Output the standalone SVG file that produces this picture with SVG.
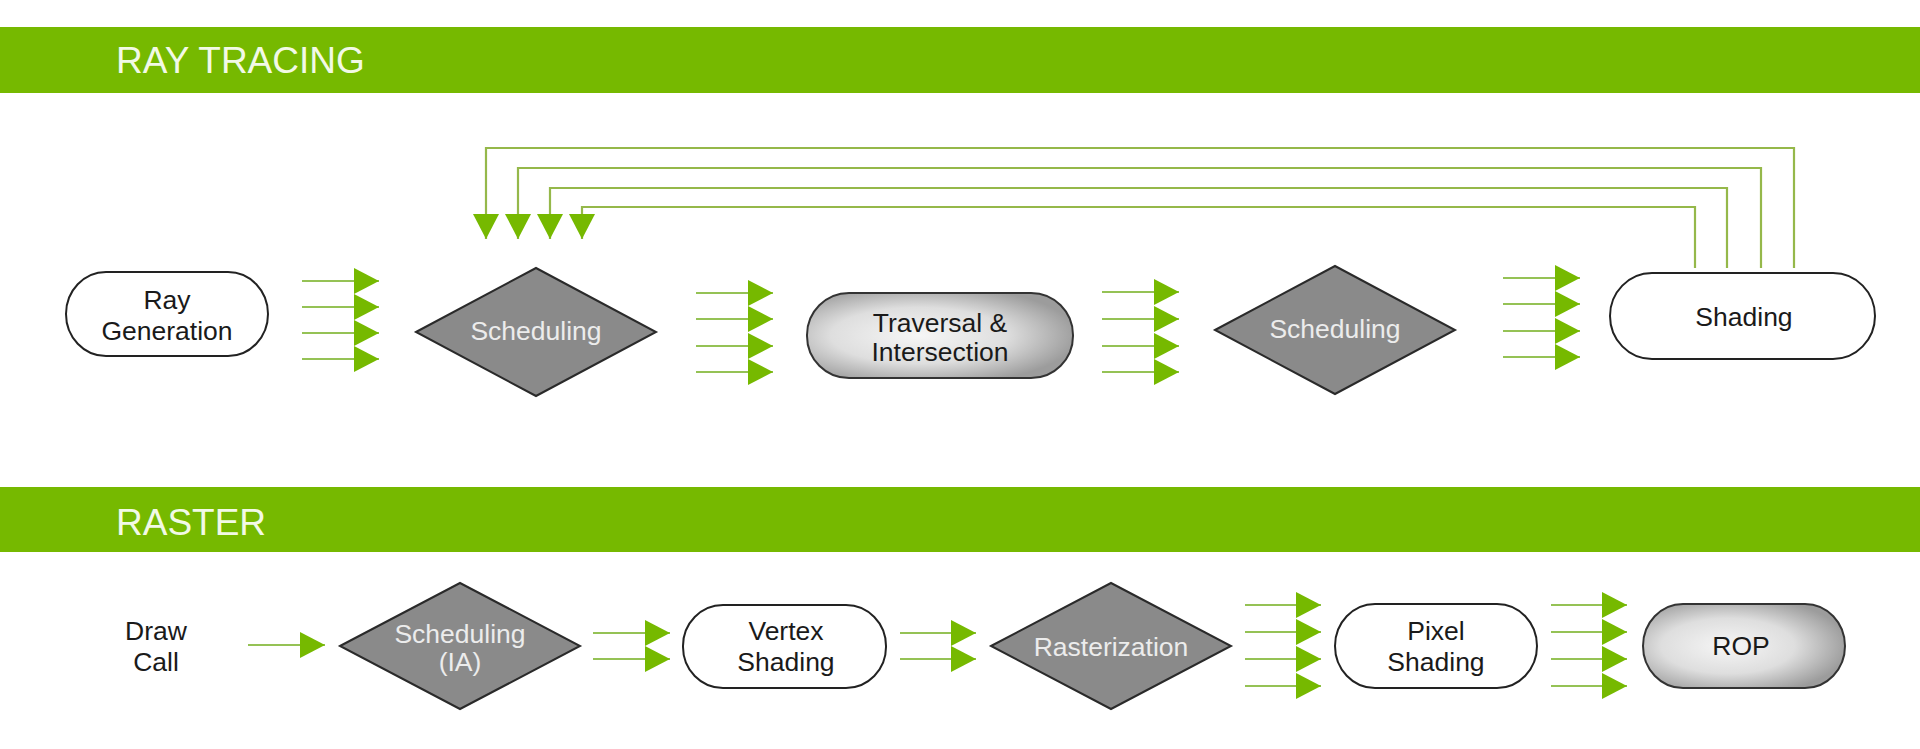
<svg xmlns="http://www.w3.org/2000/svg" width="1920" height="749" viewBox="0 0 1920 749">
<defs>
<style>
.bar{fill:#76b900}
.bartxt{font-family:"Liberation Sans",Arial,sans-serif;font-size:37px;fill:#f2f9e6}
.t{font-family:"Liberation Sans",Arial,sans-serif;font-size:26.5px;fill:#1a1a1a;text-anchor:middle}
.td{font-family:"Liberation Sans",Arial,sans-serif;font-size:26.5px;fill:#ececec;text-anchor:middle}
.term{fill:#ffffff;stroke:#222;stroke-width:2}
.termg{fill:url(#gg);stroke:#333;stroke-width:2}
.dia{fill:#8a8a8a;stroke:#2a2a2a;stroke-width:2}
.a{stroke:#95c255;stroke-width:2.2;fill:none;marker-end:url(#tri)}
.fb{stroke:#95b84a;stroke-width:2.2;fill:none;marker-end:url(#tri)}
</style>
<radialGradient id="gg" cx="0.42" cy="0.5" r="0.6">
<stop offset="0" stop-color="#f6f6f6"/>
<stop offset="0.55" stop-color="#dedede"/>
<stop offset="1" stop-color="#9c9c9c"/>
</radialGradient>
<marker id="tri" markerUnits="userSpaceOnUse" markerWidth="26" markerHeight="26" refX="25" refY="13" orient="auto" viewBox="0 0 26 26">
<path d="M0,0 L25,13 L0,26 Z" fill="#76b900"/>
</marker>
</defs>
<rect width="1920" height="749" fill="#ffffff"/>
<g id="header-ray-tracing">
<rect class="bar" x="0" y="27" width="1920" height="66"/>
<text class="bartxt" x="116" y="73">RAY TRACING</text>
</g>
<g id="header-raster">
<rect class="bar" x="0" y="487" width="1920" height="65"/>
<text class="bartxt" x="116" y="535">RASTER</text>
</g>
<g id="connectors">
<path class="fb" d="M1794,268 V148 H486 V239"/>
<path class="fb" d="M1761,268 V168 H518 V239"/>
<path class="fb" d="M1727,268 V188 H550 V239"/>
<path class="fb" d="M1695,268 V207 H582 V239"/>
<path class="a" d="M302,281 H379"/>
<path class="a" d="M302,307 H379"/>
<path class="a" d="M302,333 H379"/>
<path class="a" d="M302,359 H379"/>
<path class="a" d="M696,293 H773"/>
<path class="a" d="M696,319 H773"/>
<path class="a" d="M696,346 H773"/>
<path class="a" d="M696,372 H773"/>
<path class="a" d="M1102,292 H1179"/>
<path class="a" d="M1102,319 H1179"/>
<path class="a" d="M1102,346 H1179"/>
<path class="a" d="M1102,372 H1179"/>
<path class="a" d="M1503,278 H1580"/>
<path class="a" d="M1503,304 H1580"/>
<path class="a" d="M1503,331 H1580"/>
<path class="a" d="M1503,357 H1580"/>
<path class="a" d="M248,645 H325"/>
<path class="a" d="M593,633 H670"/>
<path class="a" d="M593,659 H670"/>
<path class="a" d="M900,633 H976"/>
<path class="a" d="M900,659 H976"/>
<path class="a" d="M1245,605 H1321"/>
<path class="a" d="M1245,632 H1321"/>
<path class="a" d="M1245,659 H1321"/>
<path class="a" d="M1245,686 H1321"/>
<path class="a" d="M1551,605 H1627"/>
<path class="a" d="M1551,632 H1627"/>
<path class="a" d="M1551,659 H1627"/>
<path class="a" d="M1551,686 H1627"/>
</g>
<g id="ray-generation">
<rect class="term" x="66" y="272" width="202" height="84" rx="40" ry="42"/>
<text class="t" x="167" y="309">Ray</text>
<text class="t" x="167" y="340">Generation</text>
</g>
<g id="scheduling-1">
<polygon class="dia" points="416,332 536,268 656,332 536,396"/>
<text class="td" x="536" y="340">Scheduling</text>
</g>
<g id="traversal-intersection">
<rect class="termg" x="807" y="293" width="266" height="85" rx="42" ry="42"/>
<text class="t" x="940" y="332">Traversal &amp;</text>
<text class="t" x="940" y="361">Intersection</text>
</g>
<g id="scheduling-2">
<polygon class="dia" points="1215,330 1335,266 1455,330 1335,394"/>
<text class="td" x="1335" y="338">Scheduling</text>
</g>
<g id="shading">
<rect class="term" x="1610" y="273" width="265" height="86" rx="42" ry="43"/>
<text class="t" x="1744" y="326">Shading</text>
</g>
<g id="draw-call">
<text class="t" x="156" y="640">Draw</text>
<text class="t" x="156" y="671">Call</text>
</g>
<g id="scheduling-ia">
<polygon class="dia" points="340,646 460,583 580,646 460,709"/>
<text class="td" x="460" y="643">Scheduling</text>
<text class="td" x="460" y="671">(IA)</text>
</g>
<g id="vertex-shading">
<rect class="term" x="683" y="605" width="203" height="83" rx="40" ry="41"/>
<text class="t" x="786" y="640">Vertex</text>
<text class="t" x="786" y="671">Shading</text>
</g>
<g id="rasterization">
<polygon class="dia" points="991,646 1111,583 1231,646 1111,709"/>
<text class="td" x="1111" y="656">Rasterization</text>
</g>
<g id="pixel-shading">
<rect class="term" x="1335" y="604" width="202" height="84" rx="40" ry="42"/>
<text class="t" x="1436" y="640">Pixel</text>
<text class="t" x="1436" y="671">Shading</text>
</g>
<g id="rop">
<rect class="termg" x="1643" y="604" width="202" height="84" rx="40" ry="42"/>
<text class="t" x="1741" y="655">ROP</text>
</g>
</svg>
